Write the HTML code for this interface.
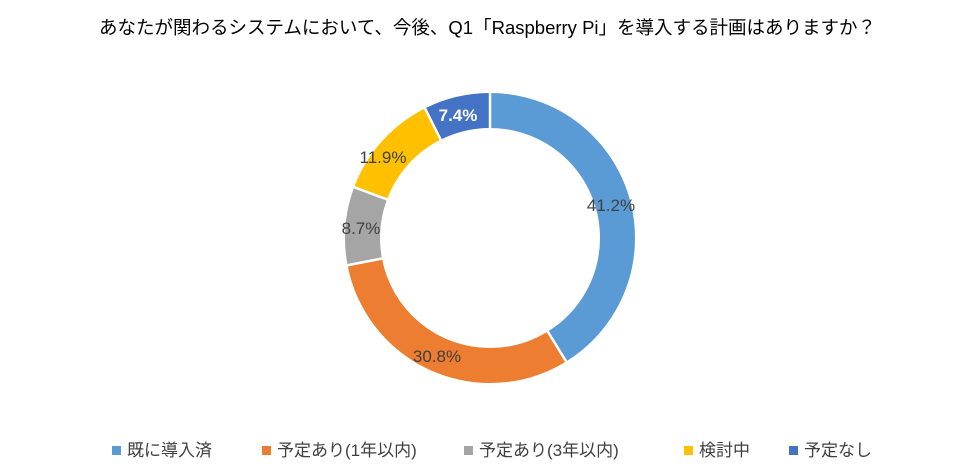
<!DOCTYPE html>
<html><head><meta charset="utf-8"><style>
body{margin:0;background:#fff;width:975px;height:475px;overflow:hidden;font-family:"Liberation Sans","Noto Sans CJK JP",sans-serif;}
.t{position:absolute;top:14px;left:0;width:975px;text-align:center;font-size:18.5px;color:#000;}
.lg{position:absolute;top:436px;font-size:17px;color:#404040;white-space:nowrap;}
.sq{display:inline-block;width:9px;height:9px;margin-right:6px;vertical-align:1px;}
</style></head><body>
<div class="t">あなたが関わるシステムにおいて、今後、Q1「Raspberry Pi」を導入する計画はありますか？</div>
<svg width="975" height="475" style="position:absolute;left:0;top:0">
<g transform="rotate(-90 490 238)" fill="none" stroke-width="35">
<circle cx="490" cy="238" r="127.5" stroke="#5B9BD5" stroke-dasharray="330.05 801.1" stroke-dashoffset="0"/>
<circle cx="490" cy="238" r="127.5" stroke="#ED7D31" stroke-dasharray="246.74 801.1" stroke-dashoffset="-330.05"/>
<circle cx="490" cy="238" r="127.5" stroke="#A5A5A5" stroke-dasharray="69.70 801.1" stroke-dashoffset="-576.79"/>
<circle cx="490" cy="238" r="127.5" stroke="#FFC000" stroke-dasharray="95.33 801.1" stroke-dashoffset="-646.49"/>
<circle cx="490" cy="238" r="127.5" stroke="#4472C4" stroke-dasharray="59.28 801.1" stroke-dashoffset="-741.82"/>
</g>
<g stroke="#fff" stroke-width="2.5">
<line x1="490" y1="130" x2="490" y2="90"/>
<line x1="546.7" y1="329.9" x2="567.2" y2="363.1"/>
<line x1="383.9" y1="258.2" x2="345.6" y2="265.6"/>
<line x1="388.9" y1="200.1" x2="352.3" y2="186.5"/>
<line x1="441.6" y1="141.5" x2="424.1" y2="106.6"/>
</g>
<g font-size="17" fill="#404040" text-anchor="middle" font-family="Liberation Sans, sans-serif">
<text x="611" y="211">41.2%</text>
<text x="437" y="362">30.8%</text>
<text x="361" y="234">8.7%</text>
<text x="383" y="163">11.9%</text>
<text x="458" y="121" fill="#fff" font-weight="bold">7.4%</text>
</g>
</svg>
<div class="lg" style="left:112px"><span class="sq" style="background:#5B9BD5"></span>既に導入済</div>
<div class="lg" style="left:262px"><span class="sq" style="background:#ED7D31"></span>予定あり(1年以内)</div>
<div class="lg" style="left:464px"><span class="sq" style="background:#A5A5A5"></span>予定あり(3年以内)</div>
<div class="lg" style="left:684px"><span class="sq" style="background:#FFC000"></span>検討中</div>
<div class="lg" style="left:789px"><span class="sq" style="background:#4472C4"></span>予定なし</div>
</body></html>
